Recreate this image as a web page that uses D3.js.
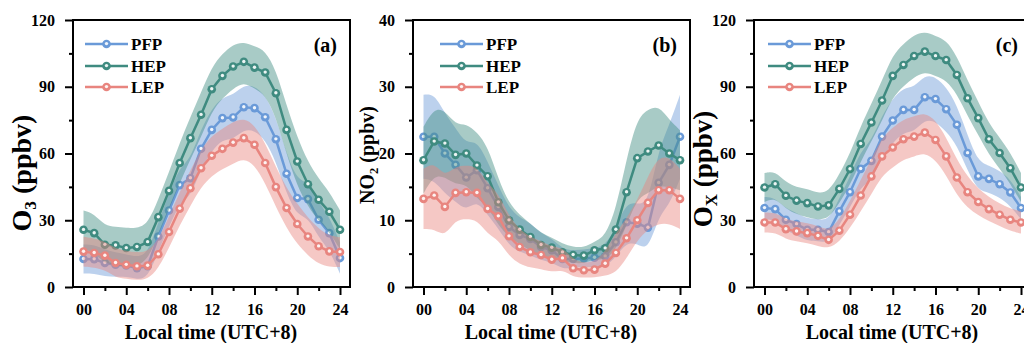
<!DOCTYPE html>
<html>
<head>
  <meta charset="UTF-8">
  <title>Diurnal O3 / NO2 / Ox</title>
  <script src="https://d3js.org/d3.v7.min.js"></script>
  <style>
    body { margin: 0; background: #fff; }
    svg text { font-family: "Liberation Serif", "Times New Roman", serif; font-weight: bold; fill: #000; }
  </style>
</head>
<body>
<div id="chart"></div>
<script>
  // hours of the day and x tick labels
  var hours = d3.range(0, 25);
  var xTicks = [0, 4, 8, 12, 16, 20, 24];
  var xTickLabels = ['00', '04', '08', '12', '16', '20', '24'];
  var seriesNames = ['PFP', 'HEP', 'LEP'];
  var colors = ['#6a9ad8', '#3f8b80', '#e8857f'];

  // (a) O3
  var o3PFP = [12.6, 12.5, 10.8, 10.0, 9.7, 8.5, 9.3, 22.7, 34.4, 45.8, 48.9, 62.1, 70.6, 75.9, 76.2, 80.8, 80.4, 76.3, 66.4, 50.9, 40.0, 39.5, 30.2, 24.2, 13.0];
  var o3HEP = [25.7, 24.2, 19.0, 18.7, 17.5, 18.0, 20.2, 31.4, 43.2, 55.7, 66.9, 77.4, 88.9, 94.9, 99.1, 101.2, 98.6, 96.4, 87.1, 70.6, 56.4, 46.2, 39.2, 33.8, 25.7];
  var o3LEP = [15.9, 15.3, 14.1, 10.8, 10.0, 9.3, 9.6, 14.7, 24.7, 35.2, 44.4, 53.4, 59.0, 62.1, 64.9, 66.9, 63.9, 55.7, 44.9, 35.5, 28.3, 22.7, 18.3, 16.0, 15.7];
  var o3PFPsd = [6.5, 6.5, 6, 5.5, 5, 5, 5.5, 6.5, 7.5, 8, 8.5, 9, 9.5, 9.5, 10, 10, 10, 10, 10, 9, 8, 8, 8, 7.5, 7];
  var o3HEPsd = [8.7, 8.7, 8.5, 8.5, 9, 8.5, 8, 8, 8.5, 9, 9.5, 10, 10, 10, 10, 9, 9.5, 10, 10.5, 11, 11, 10, 9.5, 9, 8.7];
  var o3LEPsd = [6.7, 6.5, 6.5, 6.5, 6.3, 6.2, 6.2, 6.5, 7, 7.5, 8, 8.5, 9, 9, 9.5, 9, 9, 9, 9, 9, 9, 8.5, 8, 7, 6.7];

  // (b) NO2
  var no2PFP = [22.5, 22.5, 20.0, 18.3, 16.4, 17.5, 14.8, 12.0, 9.0, 7.8, 7.2, 6.0, 5.5, 4.2, 4.2, 4.3, 4.4, 4.6, 6.7, 9.7, 9.5, 8.9, 15.6, 18.3, 22.5];
  var no2HEP = [19.0, 21.8, 21.5, 19.8, 20.0, 18.2, 16.6, 12.7, 10.0, 8.6, 7.5, 6.3, 5.9, 5.2, 4.8, 4.7, 5.5, 5.8, 8.6, 14.2, 19.3, 20.3, 21.2, 20.0, 19.0];
  var no2LEP = [13.2, 13.7, 12.0, 14.1, 14.2, 14.1, 11.7, 10.6, 7.6, 6.0, 5.2, 4.8, 4.1, 4.3, 2.8, 2.5, 2.6, 3.5, 5.1, 7.3, 10.0, 12.6, 14.5, 14.5, 13.2];
  var no2PFPsd = [6.3, 6.5, 6, 5.5, 5, 4.5, 4, 3.2, 2.8, 2.6, 2.4, 2, 1.8, 1.5, 1.3, 1.3, 1.4, 1.6, 2.2, 3, 3, 3.5, 5, 6, 6.3];
  var no2HEPsd = [5, 5, 5, 4.5, 4.5, 5, 4.5, 3.5, 2.5, 2.2, 2, 1.8, 1.5, 1.3, 1.2, 1.2, 1.3, 1.8, 3, 5, 6, 6.3, 6, 5, 4.5];
  var no2LEPsd = [4.5, 5, 4.5, 4, 4, 4, 3.8, 3.5, 3, 2.6, 2.3, 2.1, 1.9, 1.7, 1.3, 1.1, 1.2, 1.8, 3, 3, 3, 4, 5, 5, 4.5];

  // (c) Ox
  var oxPFP = [35.5, 35.0, 30.2, 28.3, 25.7, 25.7, 24.7, 34.0, 42.6, 53.1, 56.7, 67.6, 74.8, 79.6, 79.6, 85.3, 84.5, 79.9, 72.9, 60.2, 49.7, 48.6, 46.2, 42.5, 35.5];
  var oxHEP = [44.7, 46.2, 41.0, 38.8, 37.7, 36.2, 36.7, 44.1, 53.0, 64.3, 73.9, 83.8, 94.9, 99.8, 103.8, 105.8, 103.8, 102.0, 95.3, 84.8, 75.9, 66.4, 60.2, 53.4, 44.7];
  var oxLEP = [29.0, 29.0, 26.0, 25.0, 24.2, 23.0, 21.2, 25.3, 32.5, 41.1, 49.7, 58.7, 62.7, 66.4, 67.6, 69.4, 66.1, 58.7, 49.2, 42.6, 38.2, 35.0, 32.5, 30.2, 29.0];
  var oxPFPsd = [5, 5, 5, 5, 5, 5, 5, 6, 7, 8, 9, 9.5, 10, 10, 10, 10, 10, 10, 9, 8, 6.5, 6, 6, 6, 5];
  var oxHEPsd = [6.5, 6, 6, 6, 6.5, 6, 6, 6.5, 7, 8, 8.5, 9, 9.5, 9.5, 9.5, 9, 9, 9, 8.5, 8, 7.5, 7, 7, 7, 6.5];
  var oxLEPsd = [4.5, 4.5, 4.5, 4.5, 4.5, 4.5, 4, 5, 6, 7, 8, 8.5, 9, 9, 9, 9, 9, 8.5, 8, 7, 6, 5.5, 5, 5, 5];

  var panels = [
    { tag: '(a)', left: 73, yMax: 120, yStep: 30, sub: '3', main: 'O', titleSize: 28, titleX: 31, titleY: 173, legendX: 12,
      means: [o3PFP, o3HEP, o3LEP], sds: [o3PFPsd, o3HEPsd, o3LEPsd] },
    { tag: '(b)', left: 413, yMax: 40, yStep: 10, sub: '2', main: 'NO', titleSize: 20, titleX: 374, titleY: 155, legendX: 27,
      means: [no2PFP, no2HEP, no2LEP], sds: [no2PFPsd, no2HEPsd, no2LEPsd] },
    { tag: '(c)', left: 754, yMax: 120, yStep: 30, sub: 'X', main: 'O', titleSize: 27, titleX: 712, titleY: 169, legendX: 14,
      means: [oxPFP, oxHEP, oxLEP], sds: [oxPFPsd, oxHEPsd, oxLEPsd] }
  ];

  var plotTop = 20, plotBottom = 287, frameW = 277;

  var svg = d3.select('#chart').append('svg')
    .attr('width', 1024)
    .attr('height', 343);

  panels.forEach(function (p) {
    var x = d3.scaleLinear().domain([0, 24]).range([p.left + 10.5, p.left + 267]);
    var y = d3.scaleLinear().domain([0, p.yMax]).range([plotBottom, plotTop]);
    var g = svg.append('g');

    // bands + lines, series by series
    p.means.forEach(function (m, i) {
      var sd = p.sds[i];
      var area = d3.area()
        .x(function (h) { return x(h); })
        .y0(function (h) { return y(m[h] - sd[h]); })
        .y1(function (h) { return y(m[h] + sd[h]); })
        .curve(d3.curveBasis);
      g.append('path')
        .attr('d', area(hours))
        .attr('fill', colors[i])
        .attr('fill-opacity', 0.45);

      var line = d3.line()
        .x(function (h) { return x(h); })
        .y(function (h) { return y(m[h]); });
      g.append('path')
        .attr('d', line(hours))
        .attr('fill', 'none')
        .attr('stroke', colors[i])
        .attr('stroke-width', 2.5);

      var pts = g.selectAll(null).data(hours).enter().append('g')
        .attr('transform', function (h) { return 'translate(' + x(h) + ',' + y(m[h]) + ')'; });
      pts.append('circle').attr('r', 4.3).attr('fill', colors[i]);
      pts.append('circle').attr('r', 1.7).attr('cy', -0.4).attr('fill', '#fff').attr('fill-opacity', 0.9);
    });

    // frame
    g.append('rect')
      .attr('x', p.left).attr('y', plotTop)
      .attr('width', frameW).attr('height', plotBottom - plotTop)
      .attr('fill', 'none').attr('stroke', '#000').attr('stroke-width', 2);

    // y axis
    var yMajor = d3.range(0, p.yMax + 1, p.yStep);
    var yMinor = d3.range(p.yStep / 2, p.yMax, p.yStep);
    var yAx = g.append('g').attr('transform', 'translate(' + p.left + ',0)')
      .call(d3.axisLeft(y).tickValues(yMajor).tickSize(8).tickPadding(10));
    var yAxMinor = g.append('g').attr('transform', 'translate(' + p.left + ',0)')
      .call(d3.axisLeft(y).tickValues(yMinor).tickSize(4).tickFormat(''));

    // x axis
    var xAx = g.append('g').attr('transform', 'translate(0,' + plotBottom + ')')
      .call(d3.axisBottom(x).tickValues(xTicks).tickSize(8).tickPadding(9)
        .tickFormat(function (d, i) { return xTickLabels[i]; }));
    var xAxMinor = g.append('g').attr('transform', 'translate(0,' + plotBottom + ')')
      .call(d3.axisBottom(x).tickValues([2, 6, 10, 14, 18, 22]).tickSize(4).tickFormat(''));

    [yAx, yAxMinor, xAx, xAxMinor].forEach(function (a) {
      a.select('.domain').remove();
      a.selectAll('line').attr('stroke', '#000').attr('stroke-width', 2);
      a.selectAll('text').style('font-size', '16px').attr('font-family', null);
    });

    // axis titles
    g.append('text')
      .attr('x', p.left + 138).attr('y', 339)
      .attr('text-anchor', 'middle')
      .style('font-size', '20px')
      .text('Local time (UTC+8)');

    var yt = g.append('text')
      .attr('transform', 'translate(' + p.titleX + ',' + p.titleY + ') rotate(-90)')
      .attr('text-anchor', 'middle')
      .style('font-size', p.titleSize + 'px');
    yt.append('tspan').text(p.main);
    yt.append('tspan').text(p.sub).attr('dy', '0.3em').style('font-size', (p.titleSize * 0.62) + 'px');
    yt.append('tspan').text(' (ppbv)').attr('dy', '-0.18em');

    // panel tag
    g.append('text')
      .attr('x', p.left + 264).attr('y', 52)
      .attr('text-anchor', 'end')
      .style('font-size', '20px')
      .text(p.tag);

    // legend
    var ly = [44, 66, 87];
    seriesNames.forEach(function (name, i) {
      var lx = p.left + p.legendX;
      g.append('line')
        .attr('x1', lx).attr('x2', lx + 43).attr('y1', ly[i]).attr('y2', ly[i])
        .attr('stroke', colors[i]).attr('stroke-width', 2.5);
      g.append('circle').attr('cx', lx + 21.5).attr('cy', ly[i]).attr('r', 4.3).attr('fill', colors[i]);
      g.append('circle').attr('cx', lx + 21.5).attr('cy', ly[i] - 0.4).attr('r', 1.7).attr('fill', '#fff').attr('fill-opacity', 0.9);
      g.append('text')
        .attr('x', lx + 46).attr('y', ly[i]).attr('dy', '0.35em')
        .style('font-size', '17px')
        .text(name);
    });
  });
</script>
</body>
</html>
